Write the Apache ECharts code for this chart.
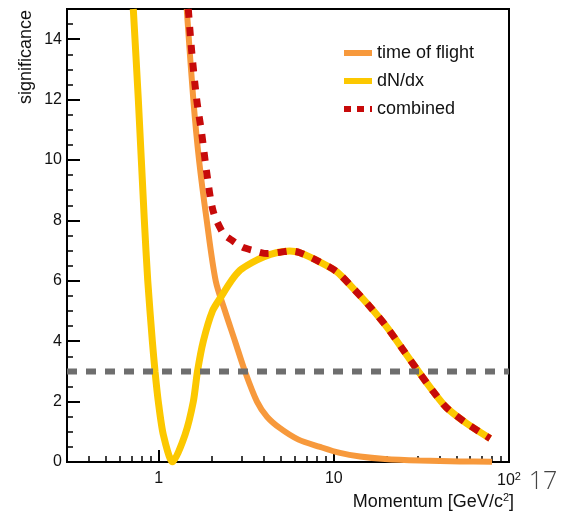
<!DOCTYPE html>
<html>
<head>
<meta charset="utf-8">
<script src="https://cdn.jsdelivr.net/npm/echarts@6/dist/echarts.min.js"></script>
<style>
  html, body { margin: 0; padding: 0; background: #fff; }
  #main { width: 568px; height: 511px; }
</style>
</head>
<body>
<div id="main"></div>
<script>
// momentum in GeV/c
var tofMomentum = [1.447, 1.578, 1.701, 1.882, 2.118, 2.393, 2.73, 3.112, 3.644, 4.156, 4.931, 6.248, 8.342, 10.85, 14.11, 19.6, 31.0, 52.5, 80];
var tofSignificance = [15, 12, 10, 8, 6, 5, 4, 3, 2, 1.5, 1.12, 0.75, 0.5, 0.3, 0.18, 0.1, 0.05, 0.02, 0.01];

var dndxMomentum = [0.717, 0.766, 0.829, 0.867, 0.921, 0.954, 0.996, 1.064, 1.2, 1.415, 1.578, 1.667, 1.80, 2.03, 2.29, 2.6, 2.92, 3.4, 4.0, 4.7, 5.6, 6.41, 8.3, 10.4, 12.9, 16.1, 20, 24.9, 30.4, 37, 44, 57.3, 78];
var dndxSignificance = [15, 12, 8, 6, 4, 3, 2, 0.9, 0, 0.9, 2, 3, 4, 5, 5.5, 6.0, 6.35, 6.6, 6.8, 6.93, 6.99, 6.93, 6.63, 6.3, 5.75, 5.14, 4.48, 3.71, 3.0, 2.33, 1.8, 1.28, 0.78];

var combMomentum = [1.477, 1.55, 1.65, 1.76, 1.88, 2.05, 2.34, 2.61, 3.0, 3.4, 4.2, 5.0, 5.6, 6.41, 8.3, 10.4, 12.9, 16.1, 20, 24.9, 30.4, 37, 44, 57.3, 78];
var combSignificance = [15, 13.5, 12, 10.9, 9.6, 8.3, 7.57, 7.35, 7.12, 7.02, 6.9, 6.95, 6.99, 6.93, 6.63, 6.3, 5.75, 5.14, 4.48, 3.71, 3.0, 2.33, 1.8, 1.28, 0.78];

var thresholdMomentum = [0.3, 100];
var thresholdLevel = 3;

var xMajorTicks = [1, 10, 100];
var xMinorTicks = [0.4, 0.5, 0.6, 0.7, 0.8, 0.9, 2, 3, 4, 5, 6, 7, 8, 9, 20, 30, 40, 50, 60, 70, 80, 90];
var yMajorTicks = [0, 2, 4, 6, 8, 10, 12, 14];
var yMinorTicks = [0.5, 1, 1.5, 2.5, 3, 3.5, 4.5, 5, 5.5, 6.5, 7, 7.5, 8.5, 9, 9.5, 10.5, 11, 11.5, 12.5, 13, 13.5, 14.5];

var font = 'Liberation Sans';

function lg(v) { return Math.log10(v); }
function pairs(ps, ss) {
	return ps.map(function (p, i) { return [lg(p), ss[i]]; });
}

var myChart = echarts.init(document.getElementById('main'));

var axisBase = {
	type: 'value',
	min: lg(0.3),
	max: 2,
	splitLine: { show: false }
};

var option = {
	animation: false,
	backgroundColor: '#fff',
	grid: {
		left: 67, right: 59, top: 9, bottom: 49,
		show: true, borderColor: '#000', borderWidth: 2
	},
	legend: {
		orient: 'vertical',
		left: 336,
		top: 39,
		itemWidth: 28,
		itemHeight: 14,
		itemGap: 10,
		itemStyle: { opacity: 0 },
		textStyle: { fontFamily: font, fontSize: 18, color: '#111' },
		data: [
			{ name: 'time of flight', lineStyle: { width: 6, color: '#f7993c' } },
			{ name: 'dN/dx', lineStyle: { width: 6, color: '#fcc800' } },
			{ name: 'combined', lineStyle: { width: 6, color: '#c70a0a', type: [7, 6] } }
		]
	},
	xAxis: [
		Object.assign({}, axisBase, {
			axisLine: { onZero: false, lineStyle: { color: '#000', width: 2 } },
			axisTick: { inside: true, length: 12, lineStyle: { color: '#000', width: 2 },
				customValues: xMajorTicks.map(lg) },
			axisLabel: {
				customValues: xMajorTicks.map(lg),
				margin: 9,
				fontFamily: font, fontSize: 16, color: '#111',
				formatter: function (v) {
					var p = Math.round(v);
					if (p === 2) return '{b|10}{s|2}';
					return '{b|' + Math.pow(10, p) + '}';
				},
				rich: {
					b: { fontFamily: font, fontSize: 16, color: '#111' },
					s: { fontFamily: font, fontSize: 11, color: '#111', padding: [0, 0, 9, 0] }
				}
			}
		}),
		Object.assign({}, axisBase, {
			position: 'bottom',
			axisLine: { show: false, onZero: false },
			axisTick: { inside: true, length: 6, lineStyle: { color: '#000', width: 1.5 },
				customValues: xMinorTicks.map(lg) },
			axisLabel: { show: false }
		})
	],
	yAxis: [
		{
			type: 'value', min: 0, max: 15,
			splitLine: { show: false },
			axisLine: { show: true, onZero: false, lineStyle: { color: '#000', width: 2 } },
			axisTick: { inside: true, length: 13, lineStyle: { color: '#000', width: 2 },
				customValues: yMajorTicks },
			axisLabel: { customValues: yMajorTicks, margin: 5,
				fontFamily: font, fontSize: 16, color: '#111' }
		},
		{
			type: 'value', min: 0, max: 15, position: 'left',
			splitLine: { show: false },
			axisLine: { show: false, onZero: false },
			axisTick: { inside: true, length: 6, lineStyle: { color: '#000', width: 1.5 },
				customValues: yMinorTicks },
			axisLabel: { show: false }
		}
	],
	series: [
		{
			name: 'time of flight', type: 'line', smooth: 0.3, symbol: 'none',
			clip: false,
			lineStyle: { color: '#f7993c', width: 6 },
			itemStyle: { color: '#f7993c' },
			data: pairs(tofMomentum, tofSignificance)
		},
		{
			name: 'dN/dx', type: 'line', smooth: 0.25, symbol: 'none',
			lineStyle: { color: '#fcc800', width: 7 },
			itemStyle: { color: '#fcc800' },
			data: pairs(dndxMomentum, dndxSignificance)
		},
		{
			name: 'combined', type: 'line', smooth: 0.3, symbol: 'none',
			lineStyle: { color: '#c70a0a', width: 7, type: [9, 9] },
			itemStyle: { color: '#c70a0a' },
			data: pairs(combMomentum, combSignificance)
		},
		{
			name: 'threshold', type: 'line', symbol: 'none', silent: true,
			lineStyle: { color: '#6e6e6e', width: 6, type: [10, 9] },
			data: thresholdMomentum.map(function (p) { return [lg(p), thresholdLevel]; })
		}
	],
	graphic: [
		{
			type: 'text', x: 26, y: 10, rotation: Math.PI / 2,
			style: { text: 'significance', font: '18px "' + font + '"', fill: '#111',
				align: 'right', verticalAlign: 'middle' }
		},
		{
			type: 'text', x: 514, y: 502,
			style: {
				text: '{n|Momentum [GeV/c}{s|2}{n|]}',
				align: 'right', verticalAlign: 'middle',
				rich: {
					n: { fontFamily: font, fontSize: 18, fill: '#111' },
					s: { fontFamily: font, fontSize: 11, fill: '#111', padding: [0, 0, 9, 0] }
				}
			}
		},
		{
			type: 'text', x: 543, y: 482,
			style: { text: '17', font: '300 25px "Open Sans"', fill: '#444',
				align: 'center', verticalAlign: 'middle' }
		}
	]
};

myChart.setOption(option);
</script>
</body>
</html>
